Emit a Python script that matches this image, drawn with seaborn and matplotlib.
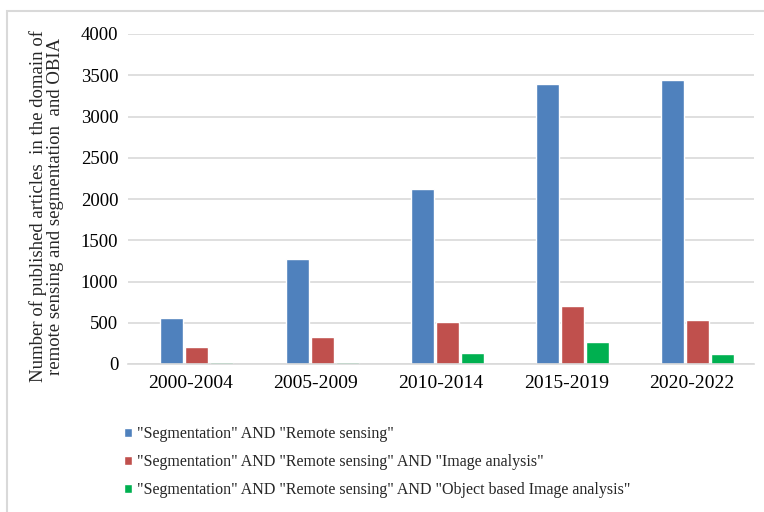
import matplotlib
matplotlib.use("Agg")
import matplotlib.pyplot as plt
import seaborn as sns
import pandas as pd
from matplotlib.patches import Rectangle

categories = ["2000-2004", "2005-2009", "2010-2014", "2015-2019", "2020-2022"]
series_names = [
    '"Segmentation" AND "Remote sensing"',
    '"Segmentation" AND "Remote sensing" AND "Image analysis"',
    '"Segmentation" AND "Remote sensing" AND "Object based Image analysis"',
]
seg_rs = [560, 1270, 2120, 3400, 3440]
seg_rs_ia = [210, 330, 510, 705, 535]
seg_rs_obia = [22, 22, 133, 267, 121]
colors = ["#4F81BD", "#C0504D", "#00B050"]

rows = []
for name, vals in zip(series_names, [seg_rs, seg_rs_ia, seg_rs_obia]):
    for c, v in zip(categories, vals):
        rows.append({"Period": c, "Series": name, "Count": v})
df = pd.DataFrame(rows)

sns.set_theme(style="white")
plt.rcParams["font.family"] = ["Liberation Serif", "DejaVu Serif"]

W, H = 764, 512
fig = plt.figure(figsize=(W / 100, H / 100), dpi=100)
ax = fig.add_axes([128 / W, 1 - 364 / H, (754 - 128) / W, (364 - 34) / H])

sns.barplot(data=df, x="Period", y="Count", hue="Series", order=categories,
            hue_order=series_names, palette=colors, width=0.6, gap=0.08,
            saturation=1, ax=ax, legend=True)

# shift bars slightly right as in reference
for p in ax.patches:
    p.set_x(p.get_x() + 0.05)

ax.set_ylim(0, 4000)
ax.set_xlim(-0.5, 4.5)
ax.set_yticks(range(0, 4001, 500))
ax.yaxis.grid(True, color="#d9d9d9", linewidth=1.2)
ax.set_axisbelow(True)
for s in ["top", "right", "left"]:
    ax.spines[s].set_visible(False)
ax.spines["bottom"].set_color("#d9d9d9")
ax.spines["bottom"].set_linewidth(1.2)
ax.tick_params(axis="x", length=0, labelsize=14, colors="#000000", pad=8)
ax.tick_params(axis="y", length=0, labelsize=13.5, colors="#000000", pad=7)
ax.set_xlabel("")
ax.set_ylabel("Number of published articles  in the domain of\nremote sensing and segmentation  and OBIA",
              fontsize=13.5, linespacing=1.0)
ax.yaxis.set_label_coords(-(128 - 64) / (754 - 128), (364 - 206) / 330)

handles, labels = ax.get_legend_handles_labels()
ax.legend_.remove()
fig.legend(handles, labels, loc="upper left", bbox_to_anchor=(110 / W, 1 - 412 / H),
           frameon=False, fontsize=11.5, handlelength=0.5, handleheight=0.5,
           handletextpad=0.3, labelspacing=0.75)

fig.patches.append(Rectangle((7 / W, -0.1), 1.2, 1.1 - 11 / H,
                             transform=fig.transFigure, fill=False,
                             edgecolor="#d9d9d9", linewidth=1.5))

fig.savefig("out.png", dpi=100)
